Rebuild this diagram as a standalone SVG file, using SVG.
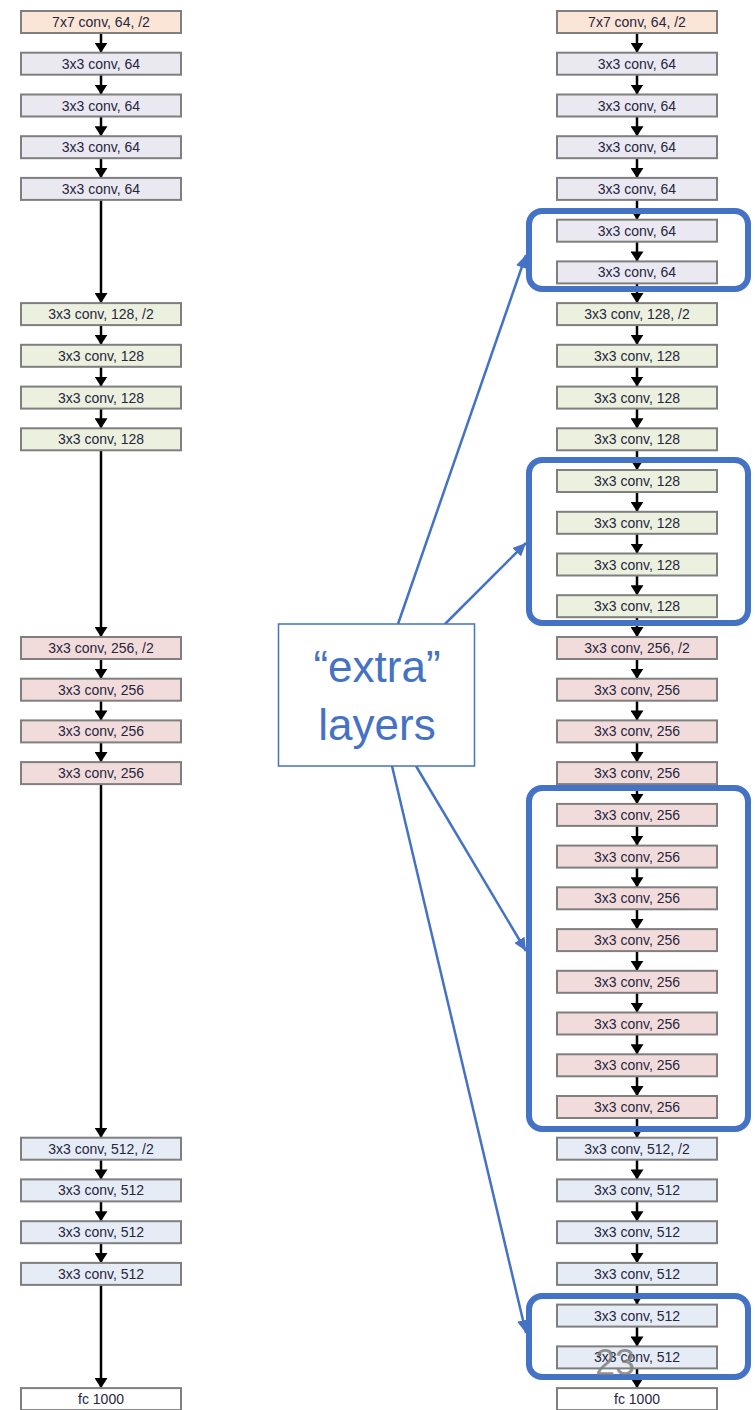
<svg xmlns="http://www.w3.org/2000/svg" width="755" height="1410" viewBox="0 0 755 1410">
<style>
.b{stroke:#7f7f7f;stroke-width:2}
.o{fill:#fbe5d6}.p{fill:#eae8f1}.g{fill:#ebf1de}.r{fill:#f2dcdb}.u{fill:#e6ecf5}.w{fill:#ffffff}
text.t{font-family:"Liberation Sans",Arial,sans-serif;font-size:14px;fill:#26263f;text-anchor:middle}
.a{stroke:#000;stroke-width:2.5;fill:none;marker-end:url(#ah)}
.bl{stroke:#4472c4;stroke-width:2.5;fill:none;marker-end:url(#bh)}
.grp{fill:none;stroke:#4472c4;stroke-width:6}
.big{font-family:"Liberation Sans",Arial,sans-serif;font-size:44px;fill:#4472c4;text-anchor:middle}
</style>
<defs>
<marker id="ah" viewBox="0 0 10 13" refX="10" refY="6.5" markerWidth="10" markerHeight="13" markerUnits="userSpaceOnUse" orient="auto"><path d="M0,0 L10,6.5 L0,13 z" fill="#000"/></marker>
<marker id="bh" viewBox="0 0 13 12" refX="13" refY="6" markerWidth="13" markerHeight="12" markerUnits="userSpaceOnUse" orient="auto"><path d="M0,0 L13,6 L0,12 z" fill="#4472c4"/></marker>
</defs>
<rect width="755" height="1410" fill="#fff"/>
<g id="connectors">
<path class="a" d="M101,33 V52.7"/>
<path class="a" d="M101,74.7 V94.5"/>
<path class="a" d="M101,116.5 V136.2"/>
<path class="a" d="M101,158.2 V177.9"/>
<path class="a" d="M101,199.9 V303.1"/>
<path class="a" d="M101,325.1 V344.8"/>
<path class="a" d="M101,366.8 V386.6"/>
<path class="a" d="M101,408.6 V428.3"/>
<path class="a" d="M101,450.3 V637"/>
<path class="a" d="M101,659 V678.7"/>
<path class="a" d="M101,700.7 V720.4"/>
<path class="a" d="M101,742.4 V762.1"/>
<path class="a" d="M101,784.1 V1137.7"/>
<path class="a" d="M101,1159.7 V1179.4"/>
<path class="a" d="M101,1201.4 V1221.2"/>
<path class="a" d="M101,1243.2 V1262.9"/>
<path class="a" d="M101,1284.9 V1388.1"/>
<path class="a" d="M637,33 V52.7"/>
<path class="a" d="M637,74.7 V94.5"/>
<path class="a" d="M637,116.5 V136.2"/>
<path class="a" d="M637,158.2 V177.9"/>
<path class="a" d="M637,199.9 V219.7"/>
<path class="a" d="M637,241.7 V261.4"/>
<path class="a" d="M637,283.4 V303.1"/>
<path class="a" d="M637,325.1 V344.8"/>
<path class="a" d="M637,366.8 V386.6"/>
<path class="a" d="M637,408.6 V428.3"/>
<path class="a" d="M637,450.3 V470"/>
<path class="a" d="M637,492 V511.8"/>
<path class="a" d="M637,533.8 V553.5"/>
<path class="a" d="M637,575.5 V595.2"/>
<path class="a" d="M637,617.2 V637"/>
<path class="a" d="M637,659 V678.7"/>
<path class="a" d="M637,700.7 V720.4"/>
<path class="a" d="M637,742.4 V762.1"/>
<path class="a" d="M637,784.1 V803.9"/>
<path class="a" d="M637,825.9 V845.6"/>
<path class="a" d="M637,867.6 V887.3"/>
<path class="a" d="M637,909.3 V929.1"/>
<path class="a" d="M637,951.1 V970.8"/>
<path class="a" d="M637,992.8 V1012.5"/>
<path class="a" d="M637,1034.5 V1054.3"/>
<path class="a" d="M637,1076.3 V1096"/>
<path class="a" d="M637,1118 V1137.7"/>
<path class="a" d="M637,1159.7 V1179.4"/>
<path class="a" d="M637,1201.4 V1221.2"/>
<path class="a" d="M637,1243.2 V1262.9"/>
<path class="a" d="M637,1284.9 V1304.6"/>
<path class="a" d="M637,1326.6 V1346.4"/>
<path class="a" d="M637,1368.4 V1388.1"/>
</g>
<g id="left-column">
<g id="L0"><rect class="b o" x="21" y="11" width="160" height="22"/><text class="t" x="101" y="27">7x7 conv, 64, /2</text></g>
<g id="L1"><rect class="b p" x="21" y="52.7" width="160" height="22"/><text class="t" x="101" y="68.7">3x3 conv, 64</text></g>
<g id="L2"><rect class="b p" x="21" y="94.5" width="160" height="22"/><text class="t" x="101" y="110.5">3x3 conv, 64</text></g>
<g id="L3"><rect class="b p" x="21" y="136.2" width="160" height="22"/><text class="t" x="101" y="152.2">3x3 conv, 64</text></g>
<g id="L4"><rect class="b p" x="21" y="177.9" width="160" height="22"/><text class="t" x="101" y="193.9">3x3 conv, 64</text></g>
<g id="L7"><rect class="b g" x="21" y="303.1" width="160" height="22"/><text class="t" x="101" y="319.1">3x3 conv, 128, /2</text></g>
<g id="L8"><rect class="b g" x="21" y="344.8" width="160" height="22"/><text class="t" x="101" y="360.8">3x3 conv, 128</text></g>
<g id="L9"><rect class="b g" x="21" y="386.6" width="160" height="22"/><text class="t" x="101" y="402.6">3x3 conv, 128</text></g>
<g id="L10"><rect class="b g" x="21" y="428.3" width="160" height="22"/><text class="t" x="101" y="444.3">3x3 conv, 128</text></g>
<g id="L15"><rect class="b r" x="21" y="637" width="160" height="22"/><text class="t" x="101" y="653">3x3 conv, 256, /2</text></g>
<g id="L16"><rect class="b r" x="21" y="678.7" width="160" height="22"/><text class="t" x="101" y="694.7">3x3 conv, 256</text></g>
<g id="L17"><rect class="b r" x="21" y="720.4" width="160" height="22"/><text class="t" x="101" y="736.4">3x3 conv, 256</text></g>
<g id="L18"><rect class="b r" x="21" y="762.1" width="160" height="22"/><text class="t" x="101" y="778.1">3x3 conv, 256</text></g>
<g id="L27"><rect class="b u" x="21" y="1137.7" width="160" height="22"/><text class="t" x="101" y="1153.7">3x3 conv, 512, /2</text></g>
<g id="L28"><rect class="b u" x="21" y="1179.4" width="160" height="22"/><text class="t" x="101" y="1195.4">3x3 conv, 512</text></g>
<g id="L29"><rect class="b u" x="21" y="1221.2" width="160" height="22"/><text class="t" x="101" y="1237.2">3x3 conv, 512</text></g>
<g id="L30"><rect class="b u" x="21" y="1262.9" width="160" height="22"/><text class="t" x="101" y="1278.9">3x3 conv, 512</text></g>
<g id="L33"><rect class="b w" x="21" y="1388.1" width="160" height="22"/><text class="t" x="101" y="1404.1">fc 1000</text></g>
</g>
<g id="right-column">
<g id="R0"><rect class="b o" x="557" y="11" width="160" height="22"/><text class="t" x="637" y="27">7x7 conv, 64, /2</text></g>
<g id="R1"><rect class="b p" x="557" y="52.7" width="160" height="22"/><text class="t" x="637" y="68.7">3x3 conv, 64</text></g>
<g id="R2"><rect class="b p" x="557" y="94.5" width="160" height="22"/><text class="t" x="637" y="110.5">3x3 conv, 64</text></g>
<g id="R3"><rect class="b p" x="557" y="136.2" width="160" height="22"/><text class="t" x="637" y="152.2">3x3 conv, 64</text></g>
<g id="R4"><rect class="b p" x="557" y="177.9" width="160" height="22"/><text class="t" x="637" y="193.9">3x3 conv, 64</text></g>
<g id="R5"><rect class="b p" x="557" y="219.7" width="160" height="22"/><text class="t" x="637" y="235.7">3x3 conv, 64</text></g>
<g id="R6"><rect class="b p" x="557" y="261.4" width="160" height="22"/><text class="t" x="637" y="277.4">3x3 conv, 64</text></g>
<g id="R7"><rect class="b g" x="557" y="303.1" width="160" height="22"/><text class="t" x="637" y="319.1">3x3 conv, 128, /2</text></g>
<g id="R8"><rect class="b g" x="557" y="344.8" width="160" height="22"/><text class="t" x="637" y="360.8">3x3 conv, 128</text></g>
<g id="R9"><rect class="b g" x="557" y="386.6" width="160" height="22"/><text class="t" x="637" y="402.6">3x3 conv, 128</text></g>
<g id="R10"><rect class="b g" x="557" y="428.3" width="160" height="22"/><text class="t" x="637" y="444.3">3x3 conv, 128</text></g>
<g id="R11"><rect class="b g" x="557" y="470" width="160" height="22"/><text class="t" x="637" y="486">3x3 conv, 128</text></g>
<g id="R12"><rect class="b g" x="557" y="511.8" width="160" height="22"/><text class="t" x="637" y="527.8">3x3 conv, 128</text></g>
<g id="R13"><rect class="b g" x="557" y="553.5" width="160" height="22"/><text class="t" x="637" y="569.5">3x3 conv, 128</text></g>
<g id="R14"><rect class="b g" x="557" y="595.2" width="160" height="22"/><text class="t" x="637" y="611.2">3x3 conv, 128</text></g>
<g id="R15"><rect class="b r" x="557" y="637" width="160" height="22"/><text class="t" x="637" y="653">3x3 conv, 256, /2</text></g>
<g id="R16"><rect class="b r" x="557" y="678.7" width="160" height="22"/><text class="t" x="637" y="694.7">3x3 conv, 256</text></g>
<g id="R17"><rect class="b r" x="557" y="720.4" width="160" height="22"/><text class="t" x="637" y="736.4">3x3 conv, 256</text></g>
<g id="R18"><rect class="b r" x="557" y="762.1" width="160" height="22"/><text class="t" x="637" y="778.1">3x3 conv, 256</text></g>
<g id="R19"><rect class="b r" x="557" y="803.9" width="160" height="22"/><text class="t" x="637" y="819.9">3x3 conv, 256</text></g>
<g id="R20"><rect class="b r" x="557" y="845.6" width="160" height="22"/><text class="t" x="637" y="861.6">3x3 conv, 256</text></g>
<g id="R21"><rect class="b r" x="557" y="887.3" width="160" height="22"/><text class="t" x="637" y="903.3">3x3 conv, 256</text></g>
<g id="R22"><rect class="b r" x="557" y="929.1" width="160" height="22"/><text class="t" x="637" y="945.1">3x3 conv, 256</text></g>
<g id="R23"><rect class="b r" x="557" y="970.8" width="160" height="22"/><text class="t" x="637" y="986.8">3x3 conv, 256</text></g>
<g id="R24"><rect class="b r" x="557" y="1012.5" width="160" height="22"/><text class="t" x="637" y="1028.5">3x3 conv, 256</text></g>
<g id="R25"><rect class="b r" x="557" y="1054.3" width="160" height="22"/><text class="t" x="637" y="1070.3">3x3 conv, 256</text></g>
<g id="R26"><rect class="b r" x="557" y="1096" width="160" height="22"/><text class="t" x="637" y="1112">3x3 conv, 256</text></g>
<g id="R27"><rect class="b u" x="557" y="1137.7" width="160" height="22"/><text class="t" x="637" y="1153.7">3x3 conv, 512, /2</text></g>
<g id="R28"><rect class="b u" x="557" y="1179.4" width="160" height="22"/><text class="t" x="637" y="1195.4">3x3 conv, 512</text></g>
<g id="R29"><rect class="b u" x="557" y="1221.2" width="160" height="22"/><text class="t" x="637" y="1237.2">3x3 conv, 512</text></g>
<g id="R30"><rect class="b u" x="557" y="1262.9" width="160" height="22"/><text class="t" x="637" y="1278.9">3x3 conv, 512</text></g>
<g id="R31"><rect class="b u" x="557" y="1304.6" width="160" height="22"/><text class="t" x="637" y="1320.6">3x3 conv, 512</text></g>
<g id="R32"><rect class="b u" x="557" y="1346.4" width="160" height="22"/><text class="t" x="637" y="1362.4">3x3 conv, 512</text></g>
<g id="R33"><rect class="b w" x="557" y="1388.1" width="160" height="22"/><text class="t" x="637" y="1404.1">fc 1000</text></g>
</g>
<g id="extra-groups">
<rect id="G1" class="grp" x="529" y="211" width="219" height="78" rx="13"/>
<rect id="G2" class="grp" x="529" y="460" width="219" height="163" rx="13"/>
<rect id="G3" class="grp" x="529" y="788" width="219" height="341" rx="13"/>
<rect id="G4" class="grp" x="529" y="1296" width="219" height="81" rx="13"/>
</g>
<g id="callout-connectors">
<path class="bl" d="M398,624 L526,255"/>
<path class="bl" d="M445,624 L526,543"/>
<path class="bl" d="M416,766 L526,951"/>
<path class="bl" d="M392,766 L526,1333"/>
</g>
<g id="callout">
<rect x="278.5" y="624" width="196" height="142" fill="#fff" stroke="#4472c4" stroke-width="1.5"/>
<text class="big" x="377" y="682">“extra”</text>
<text class="big" x="377" y="740">layers</text>
</g>
<text x="615" y="1375" font-family="Liberation Sans,Arial,sans-serif" font-size="36" fill="#7f7f7f" fill-opacity="0.85" text-anchor="middle">23</text>
</svg>
